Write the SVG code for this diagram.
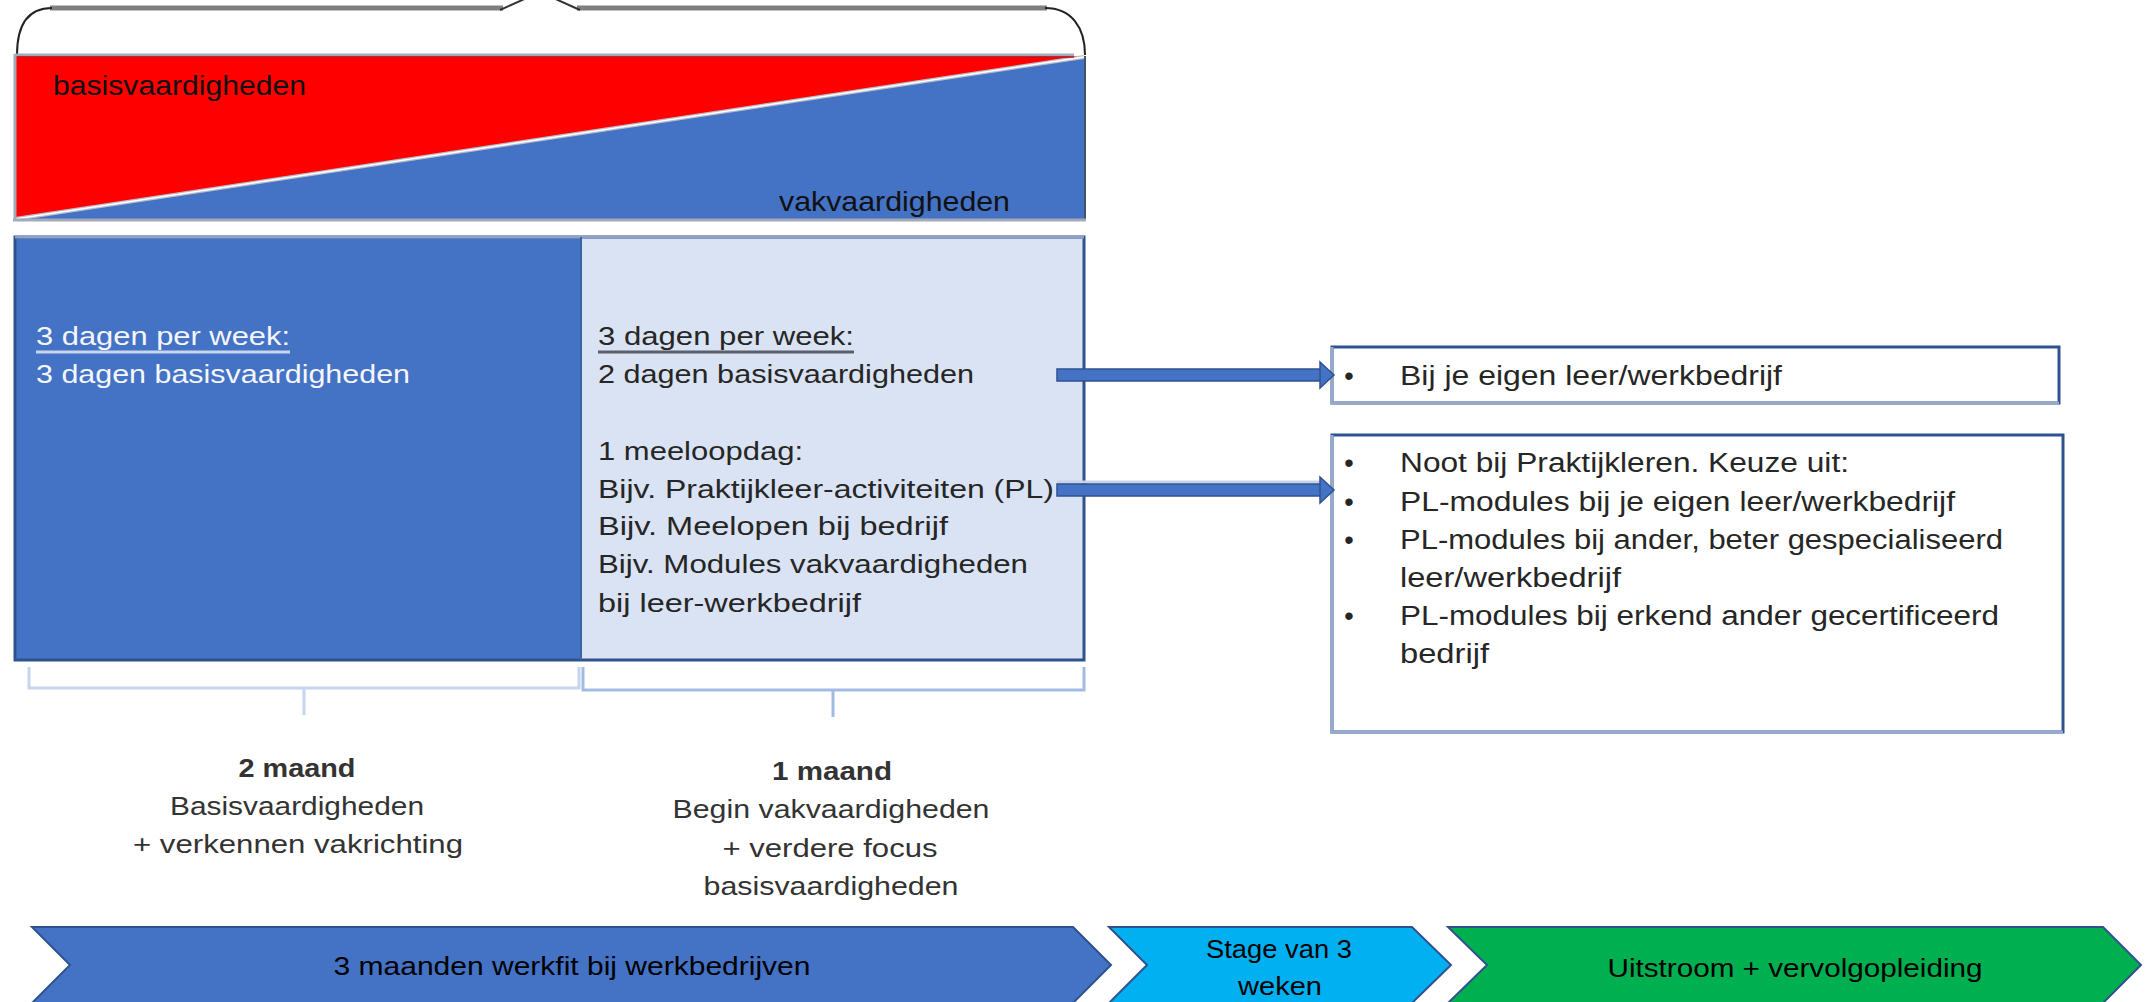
<svg xmlns="http://www.w3.org/2000/svg" width="2148" height="1002" viewBox="0 0 2148 1002">
<style>
  text { font-family: "Liberation Sans", Arial, sans-serif; font-size: 26px; }
  .wt { fill: #F4F6FB; }
  .dk { fill: #262626; }
  .gy { fill: #333333; }
  .bk { fill: #000000; }
  .c { text-anchor: middle; }
  .b { font-weight: bold; }
  .top { font-size: 28px; fill: #111111; }
  .note { font-size: 27px; fill: #262626; }
  .chev { stroke: #2F528F; stroke-width: 2; }
  .arrow { fill: #4472C4; stroke: #2F528F; stroke-width: 1.5; }
</style>
<rect width="2148" height="1002" fill="#FFFFFF"/>

<!-- brace above -->
<g id="brace">
  <path d="M 50 8 L 503 8 M 577 8 L 1047 8" stroke="#808080" stroke-width="5" fill="none"/>
  <path d="M 17 55 C 17 25 28 8 52 8" stroke="#222" stroke-width="2" fill="none"/>
  <path d="M 1045 8 C 1072 8 1085 28 1085 55" stroke="#222" stroke-width="2" fill="none"/>
  <path d="M 500 10 L 540 -8 L 580 10" stroke="#333" stroke-width="2" fill="none"/>
</g>

<!-- top skills rectangle -->
<g id="skills-bar">
  <polygon points="15,56 1084,56 15,219" fill="#FF0000"/>
  <polygon points="15,219 1084,57 1084,219" fill="#4472C4"/>
  <line x1="15" y1="219" x2="1084" y2="57" stroke="#B8BECB" stroke-width="4"/>
  <line x1="15" y1="219" x2="1084" y2="57" stroke="#FFFFFF" stroke-width="1.5"/>
  <line x1="15" y1="55" x2="1074" y2="55" stroke="#A2A9B8" stroke-width="3"/>
  <line x1="15" y1="57" x2="1074" y2="57" stroke="#C0141E" stroke-width="1.5"/>
  <line x1="15" y1="54" x2="15" y2="221" stroke="#A2A9B8" stroke-width="3"/>
  <line x1="1085" y1="56" x2="1085" y2="221" stroke="#44546A" stroke-width="2"/>
  <line x1="13" y1="220" x2="1086" y2="220" stroke="#A2A9B8" stroke-width="3"/>
  <text class="top" x="53" y="95" textLength="253" lengthAdjust="spacingAndGlyphs">basisvaardigheden</text>
  <text class="top" x="779" y="211" textLength="231" lengthAdjust="spacingAndGlyphs">vakvaardigheden</text>
</g>

<!-- lower box left -->
<g id="phase-basis">
  <rect x="15" y="237" width="566" height="423" fill="#4472C4"/>
  <text class="wt" x="36" y="345" textLength="254" lengthAdjust="spacingAndGlyphs">3 dagen per week:</text>
  <line x1="36" y1="352" x2="290" y2="352" stroke="#C9D5EE" stroke-width="3"/>
  <text class="wt" x="36" y="383" textLength="374" lengthAdjust="spacingAndGlyphs">3 dagen basisvaardigheden</text>
</g>

<!-- lower box right -->
<g id="phase-vak">
  <rect x="581" y="237" width="503" height="423" fill="#DAE3F3"/>
  <text class="dk" x="598" y="345" textLength="256" lengthAdjust="spacingAndGlyphs">3 dagen per week:</text>
  <line x1="598" y1="352" x2="854" y2="352" stroke="#5A5F6A" stroke-width="3"/>
  <text class="dk" x="598" y="383" textLength="376" lengthAdjust="spacingAndGlyphs">2 dagen basisvaardigheden</text>
  <text class="dk" x="598" y="460" textLength="205" lengthAdjust="spacingAndGlyphs">1 meeloopdag:</text>
  <text class="dk" x="598" y="498" textLength="456" lengthAdjust="spacingAndGlyphs">Bijv. Praktijkleer-activiteiten  (PL)</text>
  <text class="dk" x="598" y="535" textLength="350" lengthAdjust="spacingAndGlyphs">Bijv. Meelopen bij bedrijf</text>
  <text class="dk" x="598" y="573" textLength="430" lengthAdjust="spacingAndGlyphs">Bijv. Modules vakvaardigheden</text>
  <text class="dk" x="598" y="612" textLength="263" lengthAdjust="spacingAndGlyphs">bij leer-werkbedrijf</text>
</g>
<g id="lower-box-frame">
  <rect x="15" y="237" width="1069" height="423" fill="none" stroke="#2F528F" stroke-width="3"/>
  <line x1="15" y1="237" x2="1084" y2="237" stroke="#8FA2C6" stroke-width="3"/>
  <line x1="581" y1="237" x2="581" y2="660" stroke="#3D62A6" stroke-width="2"/>
</g>

<!-- note boxes -->
<g id="note-own">
  <rect x="1332" y="347" width="727" height="56" fill="#FFFFFF" stroke="#2F528F" stroke-width="3"/>
  <path d="M 1332 347 L 1332 403 L 2059 403" stroke="#98AACB" stroke-width="3" fill="none"/>
  <text class="note c" x="1349" y="385">•</text>
  <text class="note" x="1400" y="385" textLength="382" lengthAdjust="spacingAndGlyphs">Bij je eigen  leer/werkbedrijf</text>
</g>
<g id="note-pl">
  <rect x="1332" y="435" width="731" height="297" fill="#FFFFFF" stroke="#2F528F" stroke-width="3"/>
  <path d="M 1332 435 L 1332 732 L 2063 732" stroke="#98AACB" stroke-width="3" fill="none"/>
  <text class="note c" x="1349" y="472">•</text>
  <text class="note" x="1400" y="472" textLength="449" lengthAdjust="spacingAndGlyphs">Noot bij Praktijkleren.  Keuze uit:</text>
  <text class="note c" x="1349" y="511">•</text>
  <text class="note" x="1400" y="511" textLength="555" lengthAdjust="spacingAndGlyphs">PL-modules bij je eigen leer/werkbedrijf</text>
  <text class="note c" x="1349" y="549">•</text>
  <text class="note" x="1400" y="549" textLength="603" lengthAdjust="spacingAndGlyphs">PL-modules bij ander, beter gespecialiseerd</text>
  <text class="note" x="1400" y="587" textLength="221" lengthAdjust="spacingAndGlyphs">leer/werkbedrijf</text>
  <text class="note c" x="1349" y="625">•</text>
  <text class="note" x="1400" y="625" textLength="599" lengthAdjust="spacingAndGlyphs">PL-modules bij erkend ander gecertificeerd</text>
  <text class="note" x="1400" y="663" textLength="89" lengthAdjust="spacingAndGlyphs">bedrijf</text>
</g>

<!-- connectors -->
<g id="connectors">
  <rect class="arrow" x="1057" y="369" width="265" height="12"/>
  <polygon class="arrow" points="1320,362 1334,375 1320,388"/>
  <line x1="1057" y1="482" x2="1322" y2="482" stroke="#C8D2E6" stroke-width="3"/>
  <rect class="arrow" x="1057" y="484" width="265" height="12"/>
  <polygon class="arrow" points="1320,477 1334,490 1320,503"/>
</g>

<!-- duration brackets -->
<g id="bracket-2maand">
  <path d="M 29 667 L 29 688 L 579 688 L 579 667 M 304 688 L 304 715" stroke="#C5D5EE" stroke-width="3" fill="none"/>
  <text class="gy c b" x="297" y="777" textLength="117" lengthAdjust="spacingAndGlyphs">2 maand</text>
  <text class="gy c" x="297" y="815" textLength="254" lengthAdjust="spacingAndGlyphs">Basisvaardigheden</text>
  <text class="gy c" x="298" y="853" textLength="330" lengthAdjust="spacingAndGlyphs">+ verkennen  vakrichting</text>
</g>
<g id="bracket-1maand">
  <path d="M 583 667 L 583 690 L 1084 690 L 1084 667 M 833 690 L 833 717" stroke="#A3BBE3" stroke-width="3" fill="none"/>
  <text class="gy c b" x="832" y="780" textLength="120" lengthAdjust="spacingAndGlyphs">1 maand</text>
  <text class="gy c" x="831" y="818" textLength="317" lengthAdjust="spacingAndGlyphs">Begin vakvaardigheden</text>
  <text class="gy c" x="830" y="857" textLength="215" lengthAdjust="spacingAndGlyphs">+ verdere focus</text>
  <text class="gy c" x="831" y="895" textLength="255" lengthAdjust="spacingAndGlyphs">basisvaardigheden</text>
</g>

<!-- timeline chevrons -->
<g id="chevron-werkfit">
  <polygon class="chev" points="32,927 1073,927 1111,965 1073,1003 32,1003 70,965" fill="#4472C4"/>
  <text class="bk c" x="572" y="975" textLength="477" lengthAdjust="spacingAndGlyphs">3 maanden werkfit bij werkbedrijven</text>
</g>
<g id="chevron-stage">
  <polygon class="chev" points="1109,927 1412,927 1451,965 1412,1003 1109,1003 1147,965" fill="#00B0F0"/>
  <text class="bk c" x="1279" y="958" textLength="146" lengthAdjust="spacingAndGlyphs">Stage van 3</text>
  <text class="bk c" x="1280" y="995" textLength="84" lengthAdjust="spacingAndGlyphs">weken</text>
</g>
<g id="chevron-uitstroom">
  <polygon class="chev" points="1448,927 2103,927 2141,965 2103,1003 1448,1003 1487,965" fill="#00B050"/>
  <text class="bk c" x="1795" y="977" textLength="375" lengthAdjust="spacingAndGlyphs">Uitstroom + vervolgopleiding</text>
</g>
</svg>
